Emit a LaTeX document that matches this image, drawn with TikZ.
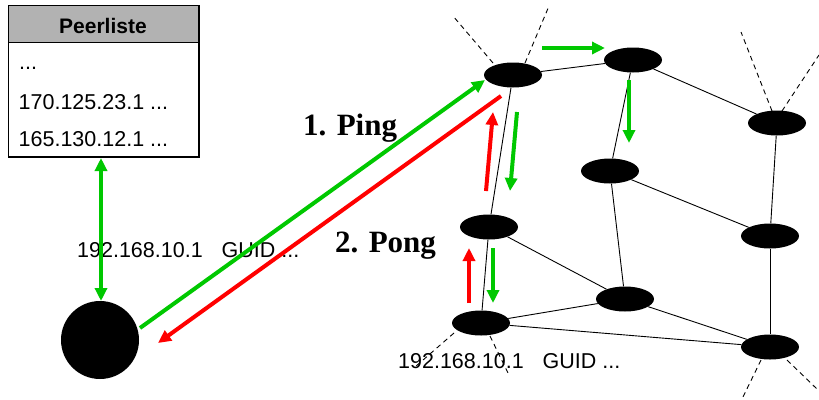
\documentclass[tikz,border=0pt]{standalone}
\usepackage{fontspec}
\setmainfont{Liberation Serif}
\newfontfamily\arialfont{Liberation Sans}
\usetikzlibrary{shapes.geometric,arrows.meta}
\definecolor{pgreen}{RGB}{0,200,0}
\definecolor{pred}{RGB}{255,0,0}
\definecolor{hdrgray}{RGB}{178,178,178}
\tikzset{
  peer/.style={ellipse,fill=black,draw=none,minimum width=58pt,minimum height=25pt,inner sep=0pt},
  link/.style={line width=0.9pt,black},
  openlink/.style={line width=0.9pt,black,dash pattern=on 5pt off 4pt},
  msgarrow/.style={line width=4pt,-{Triangle[length=13pt,width=12pt]}},
  sanstext/.style={font=\arialfont\fontsize{21.5}{25}\selectfont,inner sep=0pt,anchor=base west},
  boldlabel/.style={font=\fontsize{31}{36}\selectfont\bfseries,inner sep=0pt,anchor=base west}
}
\begin{document}
\begin{tikzpicture}[x=1pt,y=-1pt]
\useasboundingbox (0,0) rectangle (819,399);
% Peer list box
\node[draw=black,line width=1pt,minimum width=190pt,minimum height=151pt,inner sep=0pt,anchor=north west] (plist) at (8,5) {};
\fill[hdrgray] (plist.north west) rectangle (198,42);
\draw[line width=1pt] (plist.north west) rectangle (plist.south east);
\draw[line width=1pt] (8,42) -- (198,42);
\node[font=\arialfont\fontsize{21}{25}\selectfont\bfseries,inner sep=0pt,anchor=base] (ptitle) at (103,33) {Peerliste};
\node[sanstext] (pl1) at (19,69) {...};
\node[sanstext] (pl2) at (18.5,109) {170.125.23.1 ...};
\node[sanstext] (pl3) at (18.5,146) {165.130.12.1 ...};
% own peer
\node[circle,fill=black,minimum size=78pt,inner sep=0pt] (me) at (100,340) {};
\node[sanstext] (melabel) at (77,257) {192.168.10.1\hspace{19pt}GUID ...};
% network peers
\node[peer] (A) at (513,75) {};
\node[peer] (B) at (633,60) {};
\node[peer] (C) at (777,123) {};
\node[peer] (D) at (610,171) {};
\node[peer] (E) at (489,227) {};
\node[peer] (F) at (481,323) {};
\node[peer] (G) at (625,299) {};
\node[peer] (H) at (770,236) {};
\node[peer] (I) at (770,347) {};
\node[sanstext] (flabel) at (398,368) {192.168.10.1\hspace{19pt}GUID ...};
% links
\draw[link] (A) -- (B);
\draw[link] (B) -- (C);
\draw[link] (A) -- (E);
\draw[link] (E) -- (F);
\draw[link] (B) -- (D);
\draw[link] (C) -- (H);
\draw[link] (D) -- (G);
\draw[link] (D) -- (H);
\draw[link] (E) -- (G);
\draw[link] (F) -- (G);
\draw[link] (F) -- (I);
\draw[link] (G) -- (I);
\draw[link] (H) -- (I);
% open links
\coordinate (a1) at (453,16);
\coordinate (a2) at (549,6);
\coordinate (c1) at (741,32);
\coordinate (c2) at (819,55);
\coordinate (f1) at (415,367);
\coordinate (f2) at (508,373);
\coordinate (i1) at (742,399);
\coordinate (i2) at (818,390);
\draw[openlink] (493,63) -- (a1);
\draw[openlink] (525,63) -- (a2);
\draw[openlink] (772,111) -- (c1);
\draw[openlink] (782,111) -- (c2);
\draw[openlink] (454,333) -- (f1);
\draw[openlink] (490,336) -- (f2);
\draw[openlink] (761,360) -- (i1);
\draw[openlink] (787,360) -- (i2);
% messages
\coordinate (pl) at (101,158);
\coordinate (pm) at (101,301);
\draw[pgreen,line width=4pt,{Triangle[length=13pt,width=12pt]}-{Triangle[length=13pt,width=12pt]}] (pl) -- (pm);
\coordinate (g1s) at (140,328);
\coordinate (g1e) at (485,80);
\draw[msgarrow,pgreen] (g1s) -- (g1e);
\coordinate (r1s) at (501,96);
\coordinate (r1e) at (158,343);
\draw[msgarrow,pred] (r1s) -- (r1e);
\coordinate (r2s) at (486,191);
\coordinate (r2e) at (493,112);
\draw[msgarrow,pred] (r2s) -- (r2e);
\coordinate (g2s) at (517,112);
\coordinate (g2e) at (510,191);
\draw[msgarrow,pgreen] (g2s) -- (g2e);
\coordinate (g3s) at (542,48);
\coordinate (g3e) at (605,48);
\draw[msgarrow,pgreen] (g3s) -- (g3e);
\coordinate (g4s) at (629,80);
\coordinate (g4e) at (629,143);
\draw[msgarrow,pgreen] (g4s) -- (g4e);
\coordinate (r3s) at (469,303);
\coordinate (r3e) at (469,248);
\draw[msgarrow,pred] (r3s) -- (r3e);
\coordinate (g5s) at (493,248);
\coordinate (g5e) at (493,303);
\draw[msgarrow,pgreen] (g5s) -- (g5e);
% labels
\node[boldlabel] (ping) at (303,135) {1. Ping};
\node[boldlabel] (pong) at (335,252) {2. Pong};
\end{tikzpicture}
\end{document}
